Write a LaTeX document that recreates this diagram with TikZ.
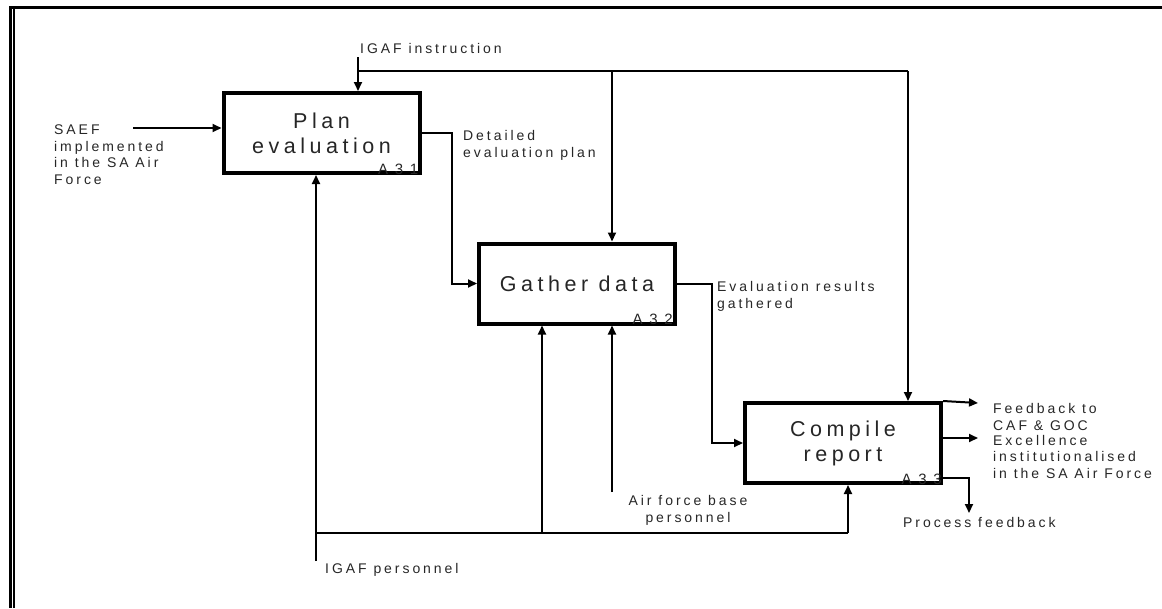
\documentclass[tikz,border=0pt]{standalone}
\usepackage{fontspec}
\setmainfont{Liberation Sans}
\newfontfamily\tracked[LetterSpace=21]{Liberation Sans}
\newfontfamily\trackedid[LetterSpace=45]{Liberation Sans}
\usetikzlibrary{arrows.meta}

\tikzset{
  actbox/.style={draw, line width=4pt, minimum width=196pt, minimum height=80pt,
    inner sep=0pt, align=center, text=black!85,
    font={\tracked\fontsize{21.5}{25}\selectfont}},
  flow/.style={line width=2pt},
  arr/.style={flow, -{Triangle[length=9pt,width=8pt]}},
  % multi-line labels are anchored on the baseline of their last line
  lbl/.style={inner sep=0pt, anchor=base west, align=left, text=black!85,
    font={\tracked\fontsize{14}{16.5}\selectfont}},
  idlbl/.style={inner sep=0pt, anchor=base east, text=black!85,
    font={\trackedid\fontsize{15}{16}\selectfont}},
}

\begin{document}
\begin{tikzpicture}[x=1pt,y=-1pt]
\useasboundingbox (0,0) rectangle (1162,608);

% page frame: heavy top rule and double rule on the left
\draw[line width=3.5pt] (9.3,7.5) -- (1162,7.5);
\draw[line width=2.7pt] (10.6,6) -- (10.6,608);
\draw[line width=2pt] (14.3,9) -- (14.3,608);

% activities
\node[actbox] (plan)    at (321.5,133)   {Plan\\evaluation};
\node[actbox] (gather)  at (577,283.5)   {Gather data};
\node[actbox] (compile) at (843,443)     {Compile\\report};

\node[idlbl] (a31) at ([xshift=-3pt,yshift=1pt]plan.south east)    {A31};
\node[idlbl] (a32) at ([xshift=-4pt,yshift=1pt]gather.south east)  {A32};
\node[idlbl] (a33) at ([xshift=-1pt,yshift=1pt]compile.south east) {A33};

% input
\node[lbl] (saef) at (54,184) {SAEF\\implemented\\in the SA Air\\Force};
\coordinate (saefin) at (133,128);
\draw[arr] (saefin) -- (plan.west |- saefin);

% controls
\node[lbl] (igafi) at (360,53) {IGAF instruction};
\coordinate (ctlin) at (358,57);
\coordinate (ctlA) at (358,71);
\coordinate (ctlB) at (612,71);
\coordinate (ctlC) at (908,71);
\draw[arr] (ctlin) -- (ctlin |- plan.north);
\draw[flow] (ctlA) -- (ctlC);
\draw[arr] (ctlB) -- (ctlB |- gather.north);
\draw[arr] (ctlC) -- (ctlC |- compile.north);

% activity to activity flows
\draw[arr] (plan.east) -- ++(30,0) |- (gather.west);
\node[lbl] (detplan) at (463,157) {Detailed\\evaluation plan};
\draw[arr] (gather.east) -- ++(35,0) |- (compile.west);
\node[lbl] (evres) at (717,308) {Evaluation results\\gathered};

% outputs
\coordinate (fbkend) at (978,403);
\coordinate (excend) at (978,438);
\coordinate (pfbend) at (969,513);
\draw[arr] (compile.north east) -- (fbkend);
\draw[arr] (compile.east |- excend) -- (excend);
\draw[arr] ([yshift=7pt]compile.south east) -| (pfbend);
\node[lbl] (fbk) at (993,430) {Feedback to\\CAF \& GOC};
\node[lbl] (exc) at (993,478) {Excellence\\institutionalised\\in the SA Air Force};
\node[lbl] (pfb) at (903,527) {Process feedback};

% mechanisms
\coordinate (mechin) at (316,561);
\coordinate (mechL) at (316,533);
\coordinate (mechG) at (542,533);
\coordinate (mechR) at (848,533);
\coordinate (afbin) at (612,492);
\draw[arr] (mechin) -- (mechin |- plan.south);
\draw[flow] (mechL) -- (mechR);
\draw[arr] (mechG) -- (mechG |- gather.south);
\draw[arr] (mechR) -- (mechR |- compile.south);
\draw[arr] (afbin) -- (afbin |- gather.south);
\node[lbl, anchor=base, align=center] (afb) at (688,522) {Air force base\\personnel};
\node[lbl] (igafp) at (325,573) {IGAF personnel};
\end{tikzpicture}
\end{document}
